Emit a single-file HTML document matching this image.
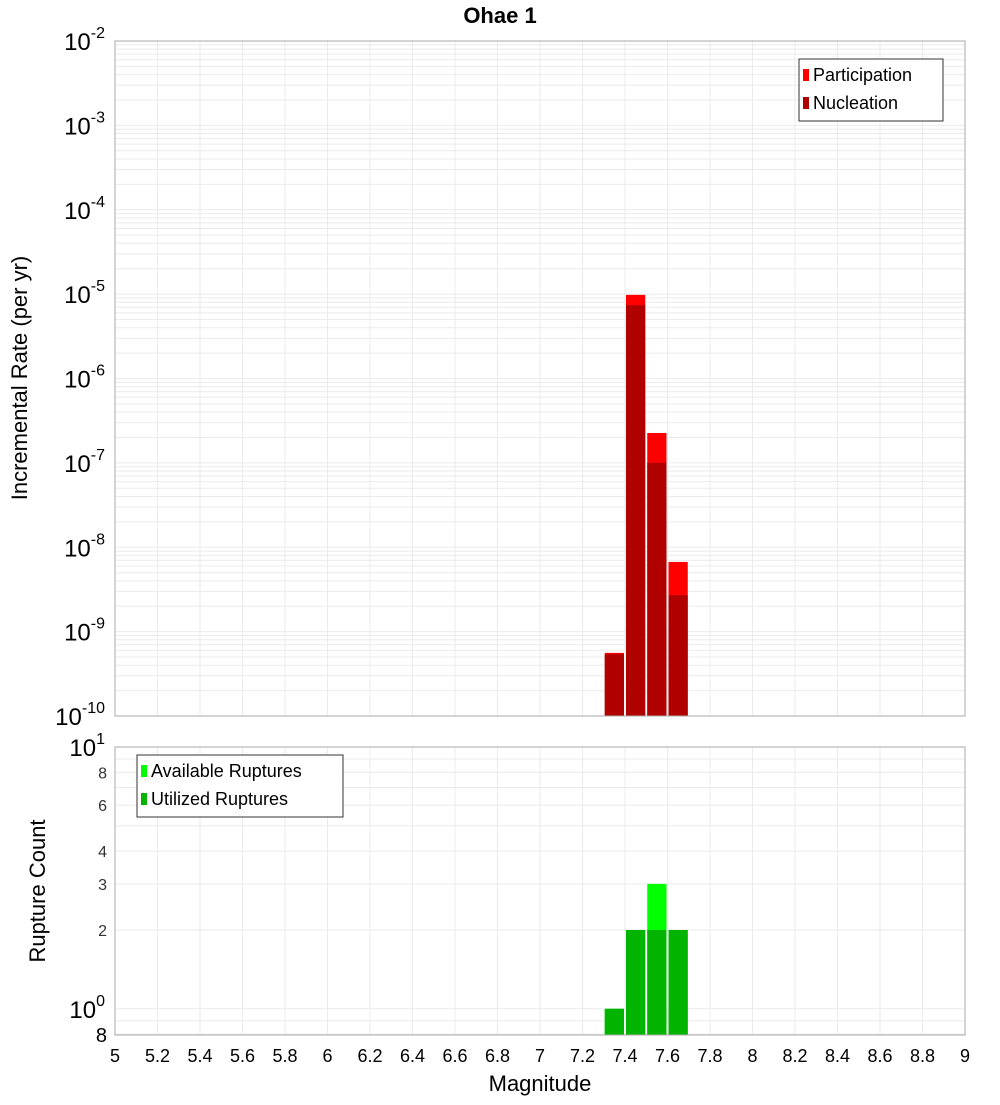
<!DOCTYPE html>
<html><head><meta charset="utf-8"><style>
body{margin:0;background:#fff;width:1000px;height:1100px;overflow:hidden}
svg{font-family:"Liberation Sans","DejaVu Sans",sans-serif}
</style></head><body>
<svg id="c" width="1000" height="1100" xmlns="http://www.w3.org/2000/svg"></svg>
<script>
const binCenters=[7.35,7.45,7.55,7.65];
const participation=[5.6e-10,9.8e-6,2.26e-7,6.7e-9];
const nucleation=[5.4e-10,7.4e-6,1.0e-7,2.7e-9];
const available=[1,2,3,2];
const utilized=[1,2,2,2];
const xTicks=[5,5.2,5.4,5.6,5.8,6,6.2,6.4,6.6,6.8,7,7.2,7.4,7.6,7.8,8,8.2,8.4,8.6,8.8,9];
const topExps=[-2,-3,-4,-5,-6,-7,-8,-9,-10];
const botTicks=[8,6,4,3,2];

const NS="http://www.w3.org/2000/svg";
const svg=document.getElementById('c');
function el(t,a,p){const e=document.createElementNS(NS,t);for(const k in a)e.setAttribute(k,a[k]);(p||svg).appendChild(e);return e;}
const X0=115,X1=965;
const xs=m=>X0+(m-5)/4*(X1-X0);
const T0=41,T1=716;
const ty=v=>T0+(-2-Math.log10(v))*(T1-T0)/8;
const B0=747,B1=1035;
const by=v=>B0+(1-Math.log10(v))*261.8;
const bw=0.1;

// title
let t=el('text',{x:500,y:23,'text-anchor':'middle','font-size':22,'font-weight':'bold'});t.textContent='Ohae 1';


// top grid
const gt=el('g',{});
for(let e=-10;e<-2;e++)for(let k=1;k<10;k++){const y=ty(k*Math.pow(10,e));el('line',{x1:X0,x2:X1,y1:y,y2:y,stroke:'#ebebeb','stroke-width':1},gt);}
xTicks.forEach(m=>el('line',{x1:xs(m),x2:xs(m),y1:T0,y2:T1,stroke:'#ebebeb'},gt));
// bottom grid
const gb=el('g',{});
[0.8,0.9,1,2,3,4,5,6,7,8,9].forEach(v=>{const y=by(v);el('line',{x1:X0,x2:X1,y1:y,y2:y,stroke:'#ebebeb'},gb);});
xTicks.forEach(m=>el('line',{x1:xs(m),x2:xs(m),y1:B0,y2:B1,stroke:'#ebebeb'},gb));

// top bars
function bars(vals,yf,base,color,name){binCenters.forEach((c,i)=>{const x=xs(c-bw/2)+1,w=xs(c+bw/2)-xs(c-bw/2)-2,y=yf(vals[i]);
 const r=el('rect',{x:x,y:y,width:w,height:base-y,fill:color});
 });}
bars(participation,ty,T1,'#ff0000','participation');
bars(nucleation,ty,T1,'#b00000','nucleation');
bars(available,by,B1,'#00ff00','available');
bars(utilized,by,B1,'#00b400','utilized');

// frames
el('rect',{x:X0,y:T0,width:X1-X0,height:T1-T0,fill:'none',stroke:'#aaa'});
el('rect',{x:X0,y:B0,width:X1-X0,height:B1-B0,fill:'none',stroke:'#aaa'});

// top y labels
topExps.forEach(e=>{const y=ty(Math.pow(10,e));const g=el('text',{x:105,y:y+9,'text-anchor':'end','font-size':24});
 g.innerHTML='10<tspan dy="-12" font-size="16">'+e+'</tspan>';});
// bottom y labels
[[10,'1'],[1,'0']].forEach(([v,e])=>{const y=by(v);const g=el('text',{x:105,y:y+9,'text-anchor':'end','font-size':24});
 g.innerHTML='10<tspan dy="-12" font-size="16">'+e+'</tspan>';});
botTicks.forEach(v=>{const g=el('text',{x:107,y:by(v)+6,'text-anchor':'end','font-size':16,fill:'#333'});g.textContent=v;
 });
let g8=el('text',{x:107,y:by(0.8)+8,'text-anchor':'end','font-size':20});g8.textContent='8';

// x labels
xTicks.forEach(m=>{const g=el('text',{x:xs(m),y:1062,'text-anchor':'middle','font-size':18});g.textContent=String(m);
 });
t=el('text',{x:540,y:1091,'text-anchor':'middle','font-size':22});t.textContent='Magnitude';
t=el('text',{x:0,y:0,'text-anchor':'middle','font-size':22,transform:'translate(27,378) rotate(-90)'});t.textContent='Incremental Rate (per yr)';
t=el('text',{x:0,y:0,'text-anchor':'middle','font-size':22,transform:'translate(45,891) rotate(-90)'});t.textContent='Rupture Count';

// legends
function legend(x,y,w,items,name){const g=el('g',{});
 el('rect',{x:x,y:y,width:w,height:items.length*28+6,fill:'#fff',stroke:'#333'},g);
 items.forEach(([c,l],i)=>{el('rect',{x:x+4,y:y+10+i*28,width:6,height:12,fill:c},g);
  const tx=el('text',{x:x+14,y:y+22+i*28,'font-size':18},g);tx.textContent=l;});}
legend(799,59,144,[['#ff0000','Participation'],['#b00000','Nucleation']],'top-legend');
legend(137,755,206,[['#00ff00','Available Ruptures'],['#00b400','Utilized Ruptures']],'bottom-legend');
</script>
</body></html>
